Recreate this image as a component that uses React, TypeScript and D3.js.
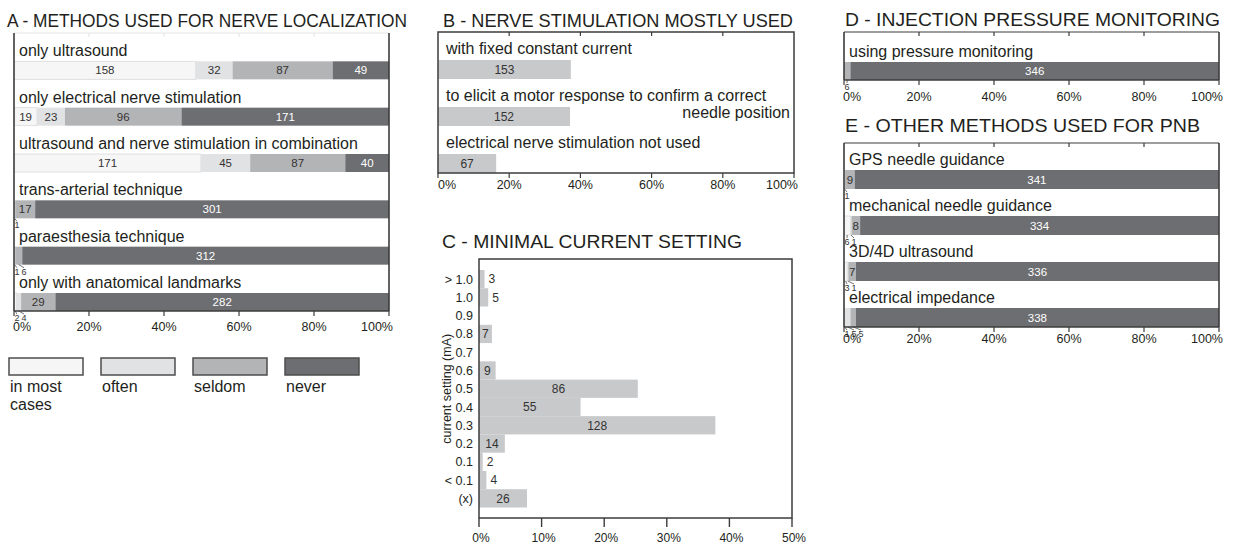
import React from "react";
import * as d3 from "d3";

const FONT = "'Liberation Sans', Arial, Helvetica, sans-serif";
const TEXT = "#231f20";
const FRAME = "#3c3c3c";

// frequency categories (legend)
const freqLabels = ["in most cases", "often", "seldom", "never"];
const freqColors = ["#f6f6f6", "#e1e2e3", "#b3b4b6", "#6d6e71"];

// A - methods used for nerve localization
const methodsA = [
  "only ultrasound",
  "only electrical nerve stimulation",
  "ultrasound and nerve stimulation in combination",
  "trans-arterial technique",
  "paraesthesia technique",
  "only with anatomical landmarks",
];
const methodsAValues = [
  [158, 32, 87, 49],
  [19, 23, 96, 171],
  [171, 45, 87, 40],
  [0, 1, 17, 301],
  [0, 1, 6, 312],
  [2, 4, 29, 282],
];

// B - nerve stimulation mostly used
const stimCategories = [
  "with fixed constant current",
  "to elicit a motor response to confirm a correct\nneedle position",
  "electrical nerve stimulation not used",
];
const stimValues = [153, 152, 67];
const stimRespondents = 410;

// C - minimal current setting
const currentCategories = ["> 1.0", "1.0", "0.9", "0.8", "0.7", "0.6", "0.5", "0.4", "0.3", "0.2", "0.1", "< 0.1", "(x)"];
const currentValues = [3, 5, 0, 7, 0, 9, 86, 55, 128, 14, 2, 4, 26];

// D - injection pressure monitoring
const pressureCategories = ["using pressure monitoring"];
const pressureValues = [[0, 0, 6, 346]];

// E - other methods used for PNB
const otherCategories = ["GPS needle guidance", "mechanical needle guidance", "3D/4D ultrasound", "electrical impedance"];
const otherValues = [
  [1, 0, 9, 341],
  [6, 1, 8, 334],
  [3, 1, 7, 336],
  [1, 5, 5, 338],
];

const pctTicks = [0, 0.2, 0.4, 0.6, 0.8, 1];
const pctTicksC = [0, 0.1, 0.2, 0.3, 0.4, 0.5];
const fmtPct = (v: number) => `${Math.round(v * 100)}%`;

type PanelProps = {
  title: string;
  titleX: number;
  titleY: number;
  titleLen: number;
  left: number;
  right: number;
  top: number;
  bottom: number;
  categories: string[];
  values: number[][];
  tickLabelY: number;
  topColor: string;
  barH: number;
  labelX: number;
};

function StackedPanel(p: PanelProps) {
  const x = d3.scaleLinear().domain([0, 1]).range([p.left, p.right]);
  const y = d3.scaleBand<string>().domain(p.categories).range([p.top, p.bottom]);
  const bw = y.bandwidth();
  return (
    <g>
      <text x={p.titleX} y={p.titleY} fontSize={18} fill={TEXT} textLength={p.titleLen} lengthAdjust="spacingAndGlyphs">
        {p.title}
      </text>
      {p.categories.map((c, i) => {
        const vals = p.values[i];
        const total = d3.sum(vals);
        const barBottom = (y(c) as number) + bw;
        const barTop = barBottom - p.barH;
        let cum = 0;
        let k = 0;
        const segs = vals.map((v, j) => {
          const x0 = x(cum / total);
          cum += v;
          const x1 = x(cum / total);
          return { v, j, x0, x1 };
        });
        return (
          <g key={c}>
            <text x={p.labelX} y={barTop - 5} fontSize={16} fill={TEXT}>
              {c}
            </text>
            {segs.map((s) =>
              s.v > 0 ? (
                <rect
                  key={"r" + s.j}
                  x={s.x0}
                  y={barTop}
                  width={s.x1 - s.x0}
                  height={p.barH}
                  fill={freqColors[s.j]}
                  stroke={s.j === 0 ? "#d9d9d9" : "none"}
                  strokeWidth={0.8}
                />
              ) : null
            )}
            {segs.map((s) => {
              if (s.v <= 0) return null;
              const w = s.x1 - s.x0;
              if (w < 7.5) {
                const lx = p.left + 3 + k * 7;
                k += 1;
                return (
                  <g key={"s" + s.j}>
                    <line x1={(s.x0 + s.x1) / 2} y1={barBottom} x2={lx} y2={barBottom + 3} stroke="#333" strokeWidth={0.7} />
                    <text x={lx} y={barBottom + 10} fontSize={9} textAnchor="middle" fill="#333">
                      {s.v}
                    </text>
                  </g>
                );
              }
              return (
                <text
                  key={"t" + s.j}
                  x={(s.x0 + s.x1) / 2}
                  y={barTop + p.barH / 2}
                  dy="0.36em"
                  fontSize={11.5}
                  textAnchor="middle"
                  fill={s.j === 3 ? "#ffffff" : "#333"}
                >
                  {s.v}
                </text>
              );
            })}
          </g>
        );
      })}
      {/* frame */}
      <line x1={p.left} x2={p.right} y1={p.top} y2={p.top} stroke={p.topColor} strokeWidth={1.2} />
      <line x1={p.left} x2={p.left} y1={p.top} y2={p.bottom} stroke={FRAME} strokeWidth={1.6} />
      <line x1={p.right} x2={p.right} y1={p.top} y2={p.bottom} stroke={FRAME} strokeWidth={1.6} />
      <line x1={p.left} x2={p.right} y1={p.bottom} y2={p.bottom} stroke={FRAME} strokeWidth={1.6} />
      {pctTicks.map((t, i) => (
        <g key={"tk" + t}>
          <line x1={x(t)} x2={x(t)} y1={p.bottom} y2={p.bottom + 5} stroke={FRAME} strokeWidth={1.2} />
          {i > 0 && i < pctTicks.length - 1 ? (
            <line x1={x(t)} x2={x(t)} y1={p.top} y2={p.top + 4} stroke={p.topColor} strokeWidth={1.2} />
          ) : null}
          <text
            x={i === 0 ? x(t) - 1 : i === pctTicks.length - 1 ? x(t) + 4 : x(t)}
            y={p.tickLabelY}
            fontSize={12.5}
            fill={TEXT}
            textAnchor={i === 0 ? "start" : i === pctTicks.length - 1 ? "end" : "middle"}
          >
            {fmtPct(t)}
          </text>
        </g>
      ))}
    </g>
  );
}

function PanelB() {
  const left = 438, right = 794, top = 32, bottom = 173;
  const x = d3.scaleLinear().domain([0, 1]).range([left, right]);
  const y = d3.scaleBand<string>().domain(stimCategories).range([top, bottom]);
  const barH = 19;
  return (
    <g>
      <text x={443} y={27} fontSize={18} fill={TEXT} textLength={350} lengthAdjust="spacingAndGlyphs">
        B - NERVE STIMULATION MOSTLY USED
      </text>
      {stimCategories.map((c, i) => {
        const barBottom = (y(c) as number) + y.bandwidth();
        const barTop = barBottom - barH;
        const lines = c.split("\n");
        const w = x(stimValues[i] / stimRespondents) - left;
        return (
          <g key={c}>
            <text x={446} y={barTop - 6} fontSize={16} fill={TEXT}>
              {lines[0]}
            </text>
            {lines[1] ? (
              <text x={790} y={barTop + 11} fontSize={16} fill={TEXT} textAnchor="end">
                {lines[1]}
              </text>
            ) : null}
            <rect x={left} y={barTop} width={w} height={barH} fill="#c8c9cb" />
            <text x={left + w / 2} y={barTop + barH / 2} dy="0.36em" fontSize={12} textAnchor="middle" fill="#333">
              {stimValues[i]}
            </text>
          </g>
        );
      })}
      <rect x={left} y={top} width={right - left} height={bottom - top} fill="none" stroke={FRAME} strokeWidth={1.5} />
      {pctTicks.map((t, i) => (
        <g key={t}>
          <line x1={x(t)} x2={x(t)} y1={bottom} y2={bottom + 5} stroke={FRAME} strokeWidth={1.2} />
          {i > 0 && i < pctTicks.length - 1 ? (
            <line x1={x(t)} x2={x(t)} y1={top} y2={top + 4} stroke={FRAME} strokeWidth={1.2} />
          ) : null}
          <text
            x={i === 0 ? x(t) : i === pctTicks.length - 1 ? x(t) + 4 : x(t)}
            y={189}
            fontSize={12.5}
            fill={TEXT}
            textAnchor={i === 0 ? "start" : i === pctTicks.length - 1 ? "end" : "middle"}
          >
            {fmtPct(t)}
          </text>
        </g>
      ))}
    </g>
  );
}

function PanelC() {
  const left = 479, right = 792, top = 259, bottom = 518;
  const total = d3.sum(currentValues);
  const x = d3.scaleLinear().domain([0, 0.5]).range([left, right]);
  const y = d3.scaleBand<string>().domain(currentCategories).range([270, 507.5]);
  const bh = y.bandwidth();
  return (
    <g>
      <text x={442} y={248} fontSize={18} fill={TEXT} textLength={300} lengthAdjust="spacingAndGlyphs">
        C - MINIMAL CURRENT SETTING
      </text>
      {currentCategories.map((c, i) => {
        const v = currentValues[i];
        const yy = y(c) as number;
        const w = x(v / total) - left;
        return (
          <g key={c}>
            <text x={473} y={yy + bh / 2} dy="0.36em" fontSize={12.5} textAnchor="end" fill={TEXT}>
              {c}
            </text>
            {v > 0 ? <rect x={left} y={yy} width={w} height={bh} fill="#c8c9cb" /> : null}
            {v > 0 ? (
              <text
                x={w >= 12 ? left + w / 2 : left + w + 4}
                y={yy + bh / 2}
                dy="0.36em"
                fontSize={12}
                textAnchor={w >= 12 ? "middle" : "start"}
                fill="#333"
              >
                {v}
              </text>
            ) : null}
          </g>
        );
      })}
      <text
        transform={`translate(446,${(270 + 507.5) / 2}) rotate(-90)`}
        fontSize={12.5}
        textAnchor="middle"
        dy="0.36em"
        fill={TEXT}
      >
        current setting (mA)
      </text>
      <rect x={left} y={top} width={right - left} height={bottom - top} fill="none" stroke={FRAME} strokeWidth={1.5} />
      {pctTicksC.map((t) => (
        <g key={t}>
          <line x1={x(t)} x2={x(t)} y1={bottom} y2={bottom + 9} stroke={FRAME} strokeWidth={1.4} />
          <text x={x(t) + 2} y={542} fontSize={12} fill={TEXT} textAnchor="middle">
            {fmtPct(t)}
          </text>
        </g>
      ))}
    </g>
  );
}

function Legend() {
  return (
    <g>
      {freqLabels.map((l, i) => {
        const bx = 9 + i * 92;
        const words = l.split(" ");
        const lines = l.length > 10 ? [words.slice(0, -1).join(" "), words[words.length - 1]] : [l];
        return (
          <g key={l}>
            <rect x={bx} y={358} width={74} height={17} fill={freqColors[i]} stroke="#4d4d4d" strokeWidth={1.5} />
            {lines.map((t, k) => (
              <text key={k} x={bx + 1} y={392 + k * 18} fontSize={16} fill={TEXT}>
                {t}
              </text>
            ))}
          </g>
        );
      })}
    </g>
  );
}

export default function App() {
  return (
    <svg
      width={1237}
      height={543}
      viewBox="0 0 1237 543"
      style={{ position: "absolute", left: 0, top: 0, background: "#fff", fontFamily: FONT }}
    >
      <rect x={0} y={0} width={1237} height={543} fill="#fff" />
      <StackedPanel
        title="A - METHODS USED FOR NERVE LOCALIZATION"
        titleX={7}
        titleY={27}
        titleLen={400}
        left={14}
        right={389}
        top={33}
        bottom={311}
        categories={methodsA}
        values={methodsAValues}
        tickLabelY={331}
        topColor="#e6e6e6"
        barH={18}
        labelX={19}
      />
      <Legend />
      <PanelB />
      <PanelC />
      <StackedPanel
        title="D - INJECTION PRESSURE MONITORING"
        titleX={845}
        titleY={26}
        titleLen={375}
        left={844}
        right={1219}
        top={32}
        bottom={80}
        categories={pressureCategories}
        values={pressureValues}
        tickLabelY={101}
        topColor={FRAME}
        barH={18}
        labelX={849}
      />
      <StackedPanel
        title="E - OTHER METHODS USED FOR PNB"
        titleX={845}
        titleY={132}
        titleLen={355}
        left={844}
        right={1219}
        top={143}
        bottom={327}
        categories={otherCategories}
        values={otherValues}
        tickLabelY={343}
        topColor={FRAME}
        barH={19}
        labelX={849}
      />
    </svg>
  );
}
